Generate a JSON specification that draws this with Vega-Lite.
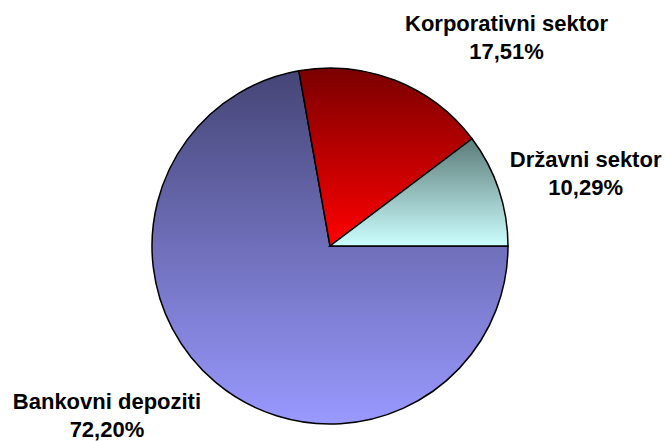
{
  "$schema": "https://vega.github.io/schema/vega-lite/v6.json",
  "width": 660,
  "height": 390,
  "autosize": "none",
  "padding": {"left": 0, "top": 51, "right": 5, "bottom": 0},
  "background": "white",
  "config": {"view": {"stroke": null}},
  "data": {
    "values": [
      {"category": "Bankovni depoziti", "value": 72.20, "order": 1, "label": "Bankovni depoziti\n72,20%"},
      {"category": "Korporativni sektor", "value": 17.51, "order": 2, "label": "Korporativni sektor\n17,51%"},
      {"category": "Državni sektor", "value": 10.29, "order": 3, "label": "Državni sektor\n10,29%"}
    ]
  },
  "layer": [
    {
      "mark": {"type": "arc", "radius": 178, "stroke": "#000000", "strokeWidth": 1.5,
        "fill": {"gradient": "linear", "x1": 0, "y1": 0, "x2": 0, "y2": 1, "stops": [{"offset": 0, "color": "#454576"}, {"offset": 1, "color": "#9999ff"}]}},
      "encoding": {
        "theta": {"field": "value", "type": "quantitative", "stack": true, "scale": {"range": [1.5707963, 7.8539816]}},
        "order": {"field": "order", "type": "quantitative"},
        "opacity": {"condition": {"test": "datum.category === 'Bankovni depoziti'", "value": 1}, "value": 0}
      }
    },
    {
      "mark": {"type": "arc", "radius": 178, "stroke": "#000000", "strokeWidth": 1.5,
        "fill": {"gradient": "linear", "x1": 0, "y1": 0, "x2": 0, "y2": 1, "stops": [{"offset": 0, "color": "#7a0000"}, {"offset": 1, "color": "#ff0000"}]}},
      "encoding": {
        "theta": {"field": "value", "type": "quantitative", "stack": true},
        "order": {"field": "order", "type": "quantitative"},
        "opacity": {"condition": {"test": "datum.category === 'Korporativni sektor'", "value": 1}, "value": 0}
      }
    },
    {
      "mark": {"type": "arc", "radius": 178, "stroke": "#000000", "strokeWidth": 1.5,
        "fill": {"gradient": "linear", "x1": 0, "y1": 0, "x2": 0, "y2": 1, "stops": [{"offset": 0, "color": "#5b7b78"}, {"offset": 1, "color": "#ccffff"}]}},
      "encoding": {
        "theta": {"field": "value", "type": "quantitative", "stack": true},
        "order": {"field": "order", "type": "quantitative"},
        "opacity": {"condition": {"test": "datum.category === 'Državni sektor'", "value": 1}, "value": 0}
      }
    },
    {
      "mark": {"type": "text", "radius": 200, "dx": -94.6, "dy": 9.7, "align": "center", "baseline": "alphabetic", "font": "Liberation Sans", "fontWeight": "bold", "fontSize": 22, "lineHeight": 28, "lineBreak": "\n", "color": "#000000"},
      "encoding": {
        "theta": {"field": "value", "type": "quantitative", "stack": true},
        "order": {"field": "order", "type": "quantitative"},
        "text": {"condition": {"test": "datum.category === 'Bankovni depoziti'", "field": "label"}, "value": ""}
      }
    },
    {
      "mark": {"type": "text", "radius": 200, "dx": 103.4, "dy": -28.8, "align": "center", "baseline": "alphabetic", "font": "Liberation Sans", "fontWeight": "bold", "fontSize": 22, "lineHeight": 28, "lineBreak": "\n", "color": "#000000"},
      "encoding": {
        "theta": {"field": "value", "type": "quantitative", "stack": true},
        "order": {"field": "order", "type": "quantitative"},
        "text": {"condition": {"test": "datum.category === 'Korporativni sektor'", "field": "label"}, "value": ""}
      }
    },
    {
      "mark": {"type": "text", "radius": 200, "dx": 66, "dy": -15.5, "align": "center", "baseline": "alphabetic", "font": "Liberation Sans", "fontWeight": "bold", "fontSize": 22, "lineHeight": 28, "lineBreak": "\n", "color": "#000000"},
      "encoding": {
        "theta": {"field": "value", "type": "quantitative", "stack": true},
        "order": {"field": "order", "type": "quantitative"},
        "text": {"condition": {"test": "datum.category === 'Državni sektor'", "field": "label"}, "value": ""}
      }
    }
  ]
}
